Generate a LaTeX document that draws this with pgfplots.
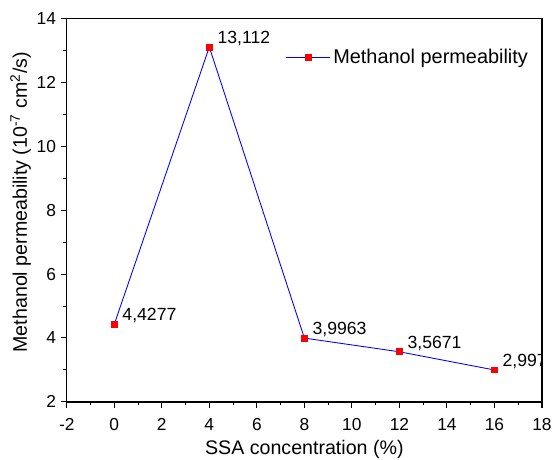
\documentclass[border=0pt]{standalone}
\usepackage{pgfplots}
\pgfplotsset{compat=1.18}
\usepackage{fontspec}
\setmainfont{Liberation Sans}
\begin{document}
\begin{tikzpicture}
\begin{axis}[
  name=ax,
  scale only axis,
  width=356pt, height=287pt,
  xmin=-2, xmax=18, ymin=2, ymax=14,
  xtick={-2,0,...,18}, ytick={2,4,...,14},
  minor x tick num=1, minor y tick num=1,
  xtick pos=bottom, ytick pos=left,
  tick align=outside,
  major tick length=4.5pt, minor tick length=2.5pt,
  every tick/.style={black, line width=0.8pt},
  axis line style={line width=1.1pt},
  /pgf/number format/assume math mode=true,
  ticklabel style={font=\fontsize{13}{15}\selectfont},
  xticklabel style={yshift=-4.5pt},
  xlabel={SSA concentration (\%)},
  ylabel={Methanol permeability (10\textsuperscript{-7} cm\textsuperscript{2}/s)},
  label style={font=\fontsize{14.7}{16}\selectfont},
  xlabel style={at={(axis description cs:0.5,-0.125)}, anchor=center},
  ylabel style={at={(axis description cs:-0.097,0.521)}, anchor=center},
  legend style={at={(0.985,0.898)}, anchor=east, draw=none, fill=none,
    font=\fontsize{14.9}{16}\selectfont},
  legend cell align=left,
  legend image code/.code={
    \draw[#1, mark=none] (0cm,0cm) -- (1.16cm,0cm);
    \draw[#1, only marks] plot coordinates {(0.58cm,0cm)};
  },
  clip marker paths=true,
  nodes near coords,
  point meta=explicit symbolic,
  every node near coord/.append style={anchor=west, font=\fontsize{13.2}{15}\selectfont, xshift=2.5pt, yshift=6.5pt, black},
]
\addplot[blue, line width=0.65pt, mark=square*, mark size=2.2pt, mark options={fill=red, draw=red}]
  table[meta=lab] {
x y lab
0 4.4277 4,4277
4 13.112 13,112
8 3.9963 3,9963
12 3.5671 3,5671
16 2.997 2,997
};
\addlegendentry{Methanol permeability}
\end{axis}
\pgfresetboundingbox
\path[use as bounding box] ([xshift=-50pt,yshift=-43.5pt]ax.south west) rectangle ([xshift=7.5pt,yshift=14pt]ax.north east);
\end{tikzpicture}
\end{document}
